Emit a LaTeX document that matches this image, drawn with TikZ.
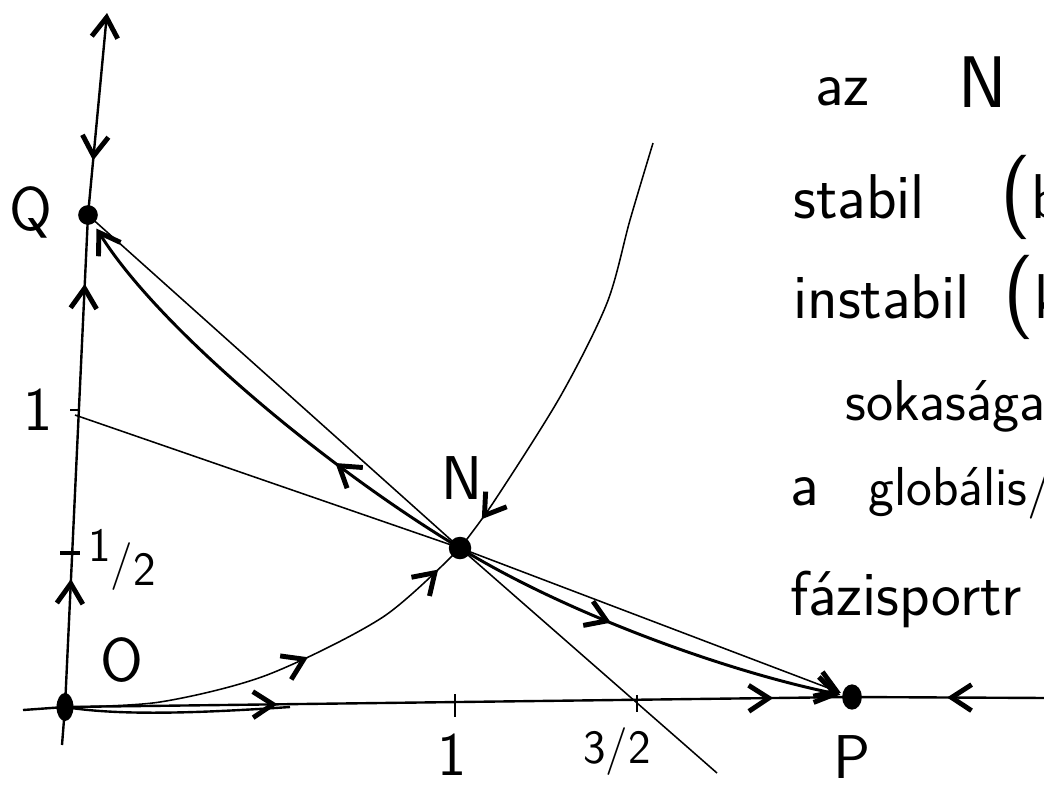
\documentclass[tikz,border=0pt]{standalone}
\usepackage{fontspec}
\usepackage{tikz}
\usetikzlibrary{arrows.meta,decorations.markings}

\tikzset{
  >={Straight Barb[length=5mm,width=6.5mm,line width=3.5pt 0]},
  axis/.style={line width=1.7pt},
  nullc/.style={line width=1.1pt},
  orbit/.style={line width=2.1pt},
  midarrow/.style={postaction={decorate,decoration={markings,mark=at position #1 with {\arrow{>}}}}},
  lbl/.style={font=\sffamily\fontsize{44}{44}\selectfont,inner sep=0pt},
  small lbl/.style={font=\sffamily\fontsize{34}{34}\selectfont,inner sep=0pt},
  txt/.style={font=\sffamily\fontsize{45}{52}\selectfont,inner sep=0pt,anchor=base west},
}

\begin{document}
\begin{tikzpicture}[x=0.025cm,y=-0.025cm]
  \useasboundingbox (0,0) rectangle (1044,792);
  % fixed points and axis ends
  \coordinate (O) at (65,707);
  \coordinate (Q) at (88,215);
  \coordinate (N) at (460,548);
  \coordinate (P) at (852,697);
  \coordinate (xl) at (23,710);
  \coordinate (xr) at (1050,698);
  \coordinate (yb) at (62,745);
  \coordinate (yt) at (107,13);
  \coordinate (y1) at (75,415);
  \coordinate (xe) at (717,773);
  \coordinate (top) at (653,143);

  % axes
  \draw[axis] (xl) -- (O);
  \draw[axis,midarrow=0.27,midarrow=0.9] (O) -- (P);
  \draw[axis,midarrow=0.52] (xr) -- (P);
  \draw[axis] (O) .. controls (120,716) and (200,713) .. (290,707);
  \draw[axis] (yb) -- (O);
  \draw[axis,midarrow=0.26,midarrow=0.86] (O) -- (Q);
  \draw[axis,<-,midarrow=0.73] (yt) -- (Q);

  % ticks
  \draw[axis] (455,694) -- (455,717);
  \draw[nullc] (637,695) -- (637,712);
  \draw[line width=3pt] (60,553) -- (80,553);
  \draw[nullc] (70,410) -- (80,410);

  % nullclines
  \draw[nullc] (y1) -- (N) -- (xe);
  \draw[nullc] (Q) -- (N);
  \draw[nullc,->,shorten >=3mm] (N) -- (P);

  % orbits
  \draw[orbit,midarrow=0.3,->,shorten >=4mm] (N) .. controls (330,470) and (160,330) .. (Q);
  \draw[orbit,midarrow=0.4,->,shorten >=3mm] (N) .. controls (560,610) and (720,670) .. (P);
  \draw[nullc,midarrow=0.92] plot[smooth] coordinates {(top) (630,220) (607,303) (560,397) (493,503) (N)};
  \draw[nullc,midarrow=0.57,midarrow=0.93] plot[smooth] coordinates {(O) (160,702) (267,675) (383,617) (N)};

  % equilibria
  \fill (O) ellipse (6pt and 10pt);
  \fill (Q) circle (7pt);
  \fill (N) circle (8pt);
  \fill (P) ellipse (7pt and 9pt);

  % labels
  \node[lbl] (lQ) at (31,212) {Q};
  \node[lbl] (lO) at (122,660) {O};
  \node[lbl] (lN) at (462,478) {N};
  \node[lbl] (lP) at (852,757) {P};
  \node[lbl] (l1y) at (38,410) {1};
  \node[small lbl] (lhalf) at (122,560) {\raisebox{.35em}{1}/\raisebox{-.15em}{2}};
  \node[lbl] (l1x) at (452,755) {1};
  \node[small lbl] (l32) at (617,752) {3/2};

  % text on the right
  \node[txt] (t1) at (815,105) {az};
  \node[txt,font=\sffamily\fontsize{52}{52}\selectfont] (t2) at (958,107) {N};
  \node[txt] (t3) at (793,218) {stabil};
  \node[txt] (t4) at (1000,218) {{\fontsize{60}{60}\selectfont(}b};
  \node[txt] (t5) at (793,318) {instabil};
  \node[txt] (t6) at (1003,318) {{\fontsize{60}{60}\selectfont(}k};
  \node[txt,font=\sffamily\fontsize{41}{52}\selectfont] (t7) at (845,420) {sokasága};
  \node[txt] (t8) at (790,505) {a};
  \node[txt,font=\sffamily\fontsize{39}{52}\selectfont] (t9) at (868,505) {globális/};
  \node[txt] (t10) at (790,615) {fázisportr};
\end{tikzpicture}
\end{document}
